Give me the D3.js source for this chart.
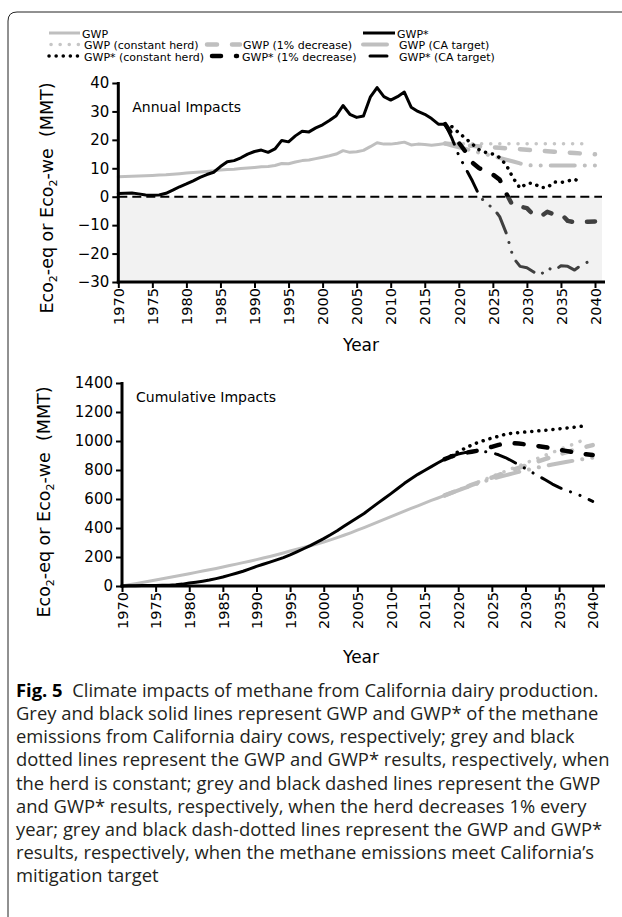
<!DOCTYPE html>
<html><head><meta charset="utf-8">
<script src="https://cdn.jsdelivr.net/npm/d3@7"></script>
<style>
html,body{margin:0;padding:0;background:#fff;}
svg{display:block;}
</style></head>
<body>
<svg id="chart" width="622" height="917"></svg>
<script>
// ---------- DATA ----------
const histYears = d3.range(1970, 2019);            // 1970..2018
const gwpAnnual = [7.0,7.1,7.2,7.3,7.4,7.5,7.6,7.7,7.9,8.1,8.3,8.5,8.7,8.9,9.1,9.4,9.6,9.7,9.9,10.1,10.3,10.5,10.6,11.0,11.7,11.6,12.2,12.7,12.9,13.4,13.9,14.4,15.0,16.2,15.6,15.8,16.3,17.6,19.0,18.5,18.5,18.8,19.2,18.2,18.5,18.4,18.1,18.4,18.7];
const gwpStarAnnual = [1.1,1.2,1.3,1.0,0.6,0.5,0.6,1.2,2.3,3.5,4.5,5.6,6.8,7.8,8.6,10.6,12.3,12.7,13.7,15.0,15.9,16.4,15.6,16.8,19.8,19.3,21.4,23.0,22.8,24.2,25.3,26.8,28.5,32.1,29.0,27.9,28.4,35.0,38.4,35.2,34.0,35.2,36.8,31.5,30.0,29.0,27.5,25.5,25.5];

const futYears = d3.range(2018, 2041);             // 2018..2040
const gwpConstAnnual   = [18.7,18.6,18.6,18.6,18.6,18.6,18.6,18.6,18.6,18.6,18.6,18.6,18.6,18.6,18.6,18.6,18.6,18.6,18.6,18.6,18.6,18.6];
const gwpPctAnnual     = [18.7,18.5,18.3,18.1,17.9,17.7,17.5,17.4,17.2,17.0,16.8,16.7,16.5,16.3,16.2,16.0,15.8,15.7,15.5,15.4,15.2,15.1,14.9];
const gwpCAAnnual      = [18.7,18.0,17.4,16.8,16.1,15.5,14.9,14.3,13.6,13.0,12.4,11.7,11.1,11.0,11.0,11.0,11.0,11.0,11.0,11.0,11.0,11.0,11.0];
const starConstAnnual  = [25.5,24.6,22.5,20.5,18.5,16.5,15.5,15.0,13.8,11.0,6.5,3.0,4.7,4.7,3.2,3.2,5.2,5.0,5.5,6.2,4.8];
const starPctAnnual    = [25.5,22.0,19.0,15.8,12.0,10.0,9.0,7.8,6.0,1.0,-3.5,-3.5,-4.0,-6.5,-7.0,-5.3,-6.2,-6.0,-8.5,-9.0,-8.8,-8.8,-8.7];
const starCAAnnual     = [25.5,20.5,14.5,10.0,5.5,0.5,-2.5,-3.8,-7.0,-13.0,-21.5,-24.5,-25.0,-26.5,-27.6,-25.0,-26.0,-24.3,-24.5,-25.8,-24.0,-22.9];

const gwpCum = [0,8,16,24,33,42,50,58,67,76,85,94,103,112,121,131,141,151,161,171,182,193,204,216,228,241,253,265,278,290,303,318,334,350,367,385,403,421,440,459,478,497,516,535,553,572,590,607,625];
const gwpStarCum = [0,1,2,3,3,4,5,6,8,13,20,26,33,41,51,62,75,88,102,118,135,150,165,180,196,214,235,257,279,303,327,353,381,412,442,471,500,535,570,603,637,672,708,740,770,797,823,850,875];
const gwpConstCum  = [625,643,662,680,699,717,736,754,773,791,810,828,847,865,884,902,921,939,958,976,995,1013];
const gwpPctCum    = [625,643,661,679,697,714,731,748,765,782,798,814,830,846,862,877,892,907,921,935,948,960,972];
const gwpCACum     = [625,643,660,677,693,709,724,738,751,763,775,787,798,809,819,829,838,847,855,863,871,878,885];
const starConstCum = [875,900,925,950,972,991,1006,1020,1033,1046,1054,1058,1062,1066,1070,1074,1079,1084,1089,1094,1100,1104];
const starPctCum   = [875,893,908,918,926,934,946,960,973,983,985,982,977,971,964,957,948,940,932,924,916,909,903];
const starCACum    = [875,895,910,920,926,928,926,919,905,886,862,836,810,783,757,731,703,680,660,645,627,605,584];

const annualTicks = [-30,-20,-10,0,10,20,30,40];
const cumTicks = [0,200,400,600,800,1000,1200,1400];
const yearTicks = d3.range(1970, 2041, 5);

const legendLabels = [
  ["GWP", null, "GWP*"],
  ["GWP (constant herd)", "GWP (1% decrease)", "GWP (CA target)"],
  ["GWP* (constant herd)", "GWP* (1% decrease)", "GWP* (CA target)"]
];

const captionLines = [
  "Grey and black solid lines represent GWP and GWP* of the methane",
  "emissions from California dairy cows, respectively; grey and black",
  "dotted lines represent the GWP and GWP* results, respectively, when",
  "the herd is constant; grey and black dashed lines represent the GWP",
  "and GWP* results, respectively, when the herd decreases 1% every",
  "year; grey and black dash-dotted lines represent the GWP and GWP*",
  "results, respectively, when the methane emissions meet California\u2019s",
  "mitigation target"
];

// ---------- STYLES ----------
const GREY = "#bfbfbf";
const styles = {
  gwp:       {stroke: GREY, w: 3, dash: null, cap: "round"},
  star:      {stroke: "#000", w: 3, dash: null, cap: "round"},
  gwpConst:  {stroke: "#c6c6c6", w: 3.5, dash: "0.1,9", cap: "round"},
  gwpPct:    {stroke: GREY, w: 4.5, dash: "10,15", cap: "round"},
  gwpCA:     {stroke: GREY, w: 4, dash: "24,10,0.1,10,0.1,10", cap: "round"},
  starConst: {stroke: "#000", w: 3.5, dash: "0.1,7", cap: "round"},
  starPct:   {stroke: "#000", w: 4.5, dash: "9,15", cap: "round"},
  starCA:    {stroke: "#000", w: 3, dash: "22,10,0.1,10,0.1,10", cap: "round"}
};

const svg = d3.select("#chart");
const FONT = "DejaVu Sans, Verdana, sans-serif";

// frame
svg.append("path").attr("d", "M622,12 H17 Q8,12 8,21 V917")
  .attr("fill", "none").attr("stroke", "#222").attr("stroke-width", 1);

// ---------- LEGEND ----------
const legRows = [33, 44.5, 56];
const legCols = [
  [{x0: 49, x1: 80, tx: 82}, null, {x0: 363, x1: 395, tx: 397}],
  [{x0: 51, x1: 79, tx: 84}, {x0: 207, x1: 240, tx: 243}, {x0: 363, x1: 389, tx: 399}],
  [{x0: 49, x1: 79, tx: 84}, {x0: 212, x1: 237, tx: 242}, {x0: 370, x1: 387, tx: 399}]
];
const legKeys = [["gwp", null, "star"], ["gwpConst", "gwpPct", "gwpCA"], ["starConst", "starPct", "starCA"]];
legKeys.forEach((row, r) => row.forEach((k, c) => {
  if (!k) return;
  const s = styles[k], col = legCols[r][c];
  svg.append("line").attr("x1", col.x0).attr("x2", col.x1).attr("y1", legRows[r]).attr("y2", legRows[r])
    .attr("stroke", s.stroke).attr("stroke-width", s.w).attr("stroke-dasharray", s.dash)
    .attr("stroke-linecap", s.dash ? s.cap : "butt");
  svg.append("text").attr("x", col.tx).attr("y", legRows[r] + 4.5)
    .attr("font-family", FONT).attr("font-size", 11).attr("fill", "#000")
    .text(legendLabels[r][c]);
}));

// ---------- PANEL FUNCTION ----------
function panel(opts) {
  const x = d3.scaleLinear().domain([1970, 2040]).range([opts.left, opts.x2040]);
  const y = d3.scaleLinear().domain(opts.yDomain).range([opts.bottom, opts.top]);
  const g = svg.append("g");
  const xRight = opts.plotRight;

  const line = d3.line().x(d => x(d[0])).y(d => y(d[1]));
  const draw = (yrs, vals, key) => {
    const s = styles[key];
    g.append("path").datum(vals.map((v, i) => [yrs[i], v]))
      .attr("d", line).attr("fill", "none")
      .attr("stroke", s.stroke).attr("stroke-width", s.w)
      .attr("stroke-dasharray", s.dash).attr("stroke-linecap", s.cap)
      .attr("stroke-linejoin", "round");
  };
  opts.series.forEach(sr => draw(sr[0], sr[1], sr[2]));

  if (opts.shade) {
    g.append("rect").attr("x", opts.left).attr("y", y(0))
      .attr("width", xRight - opts.left).attr("height", opts.bottom - y(0))
      .attr("fill", "#d4d4d4").attr("fill-opacity", 0.3);
    g.append("line").attr("x1", opts.left).attr("x2", xRight).attr("y1", y(0)).attr("y2", y(0))
      .attr("stroke", "#000").attr("stroke-width", 2).attr("stroke-dasharray", "9,5");
  }

  // y axis
  const ya = g.append("g").attr("transform", `translate(${opts.left},0)`)
    .call(d3.axisLeft(y).tickValues(opts.yTicks).tickFormat(d3.format("d")).tickSize(6).tickSizeOuter(0).tickPadding(3));
  ya.select(".domain").remove();
  ya.selectAll(".tick line").attr("stroke", "#000").attr("stroke-width", 2);
  ya.selectAll("text").attr("font-family", FONT).attr("font-size", 15).attr("fill", "#000");
  g.append("line").attr("x1", opts.left).attr("x2", opts.left).attr("y1", opts.top - 1).attr("y2", opts.bottom + 1.5)
    .attr("stroke", "#000").attr("stroke-width", 3);

  // x axis
  const xa = g.append("g").attr("transform", `translate(0,${opts.bottom})`)
    .call(d3.axisBottom(x).tickValues(yearTicks).tickFormat(d3.format("d")).tickSize(6).tickSizeOuter(0));
  xa.select(".domain").remove();
  xa.selectAll(".tick line").attr("stroke", "#000").attr("stroke-width", 2);
  xa.selectAll("text").attr("font-family", FONT).attr("font-size", 14.5).attr("fill", "#000")
    .attr("transform", "rotate(-90)").attr("text-anchor", "end")
    .attr("x", -6).attr("y", 0).attr("dy", "0.36em");
  g.append("line").attr("x1", opts.left - 1.5).attr("x2", 605).attr("y1", opts.bottom).attr("y2", opts.bottom)
    .attr("stroke", "#000").attr("stroke-width", 3);

  // labels
  g.append("text").attr("x", opts.left + 14).attr("y", opts.titleY)
    .attr("font-family", FONT).attr("font-size", 14).attr("fill", "#000").text(opts.title);
  g.append("text").attr("x", 361).attr("y", opts.yearY).attr("text-anchor", "middle")
    .attr("font-family", FONT).attr("font-size", 17).attr("fill", "#000").text("Year");
  const yt = g.append("text").attr("transform", `translate(${opts.yTitleX},${opts.yTitleY}) rotate(-90)`)
    .attr("text-anchor", "middle").attr("font-family", FONT).attr("font-size", 17.5).attr("fill", "#000");
  yt.append("tspan").text("Eco");
  yt.append("tspan").attr("font-size", 11).attr("dy", 4).text("2");
  yt.append("tspan").attr("dy", -4).text("-eq or Eco");
  yt.append("tspan").attr("font-size", 11).attr("dy", 4).text("2");
  yt.append("tspan").attr("dy", -4).text("-we  (MMT)");
  yt.attr("xml:space", "preserve");
}

panel({
  left: 118.3, x2040: 595, plotRight: 602, top: 83, bottom: 282,
  yDomain: [-30, 40], yTicks: annualTicks, shade: true,
  title: "Annual Impacts", titleY: 112, yearY: 351, yTitleX: 53, yTitleY: 198,
  series: [
    [futYears, gwpConstAnnual, "gwpConst"],
    [futYears, gwpPctAnnual, "gwpPct"],
    [futYears, gwpCAAnnual, "gwpCA"],
    [histYears, gwpAnnual, "gwp"],
    [futYears, starConstAnnual, "starConst"],
    [futYears, starPctAnnual, "starPct"],
    [futYears, starCAAnnual, "starCA"],
    [histYears, gwpStarAnnual, "star"]
  ]
});

panel({
  left: 122, x2040: 592.7, plotRight: 602, top: 383, bottom: 586,
  yDomain: [0, 1400], yTicks: cumTicks, shade: false,
  title: "Cumulative Impacts", titleY: 402, yearY: 663, yTitleX: 50, yTitleY: 502,
  series: [
    [futYears, gwpConstCum, "gwpConst"],
    [futYears, gwpPctCum, "gwpPct"],
    [futYears, gwpCACum, "gwpCA"],
    [histYears, gwpCum, "gwp"],
    [futYears, starConstCum, "starConst"],
    [futYears, starPctCum, "starPct"],
    [futYears, starCACum, "starCA"],
    [histYears, gwpStarCum, "star"]
  ]
});

// ---------- CAPTION ----------
const CAPFONT = "Open Sans, Noto Sans, sans-serif";
const CAPSIZE = 18.4;
const cap0 = svg.append("text").attr("x", 16).attr("y", 697)
  .attr("font-family", CAPFONT).attr("font-size", CAPSIZE).attr("fill", "#231f20").attr("xml:space", "preserve");
cap0.append("tspan").attr("font-weight", "bold").attr("fill", "#000").text("Fig. 5");
cap0.append("tspan").text("  Climate impacts of methane from California dairy production.");
captionLines.forEach((t, i) => {
  svg.append("text").attr("x", 16).attr("y", 697 + 23.15 * (i + 1))
    .attr("font-family", CAPFONT).attr("font-size", CAPSIZE).attr("fill", "#231f20").text(t);
});
</script>
</body></html>
